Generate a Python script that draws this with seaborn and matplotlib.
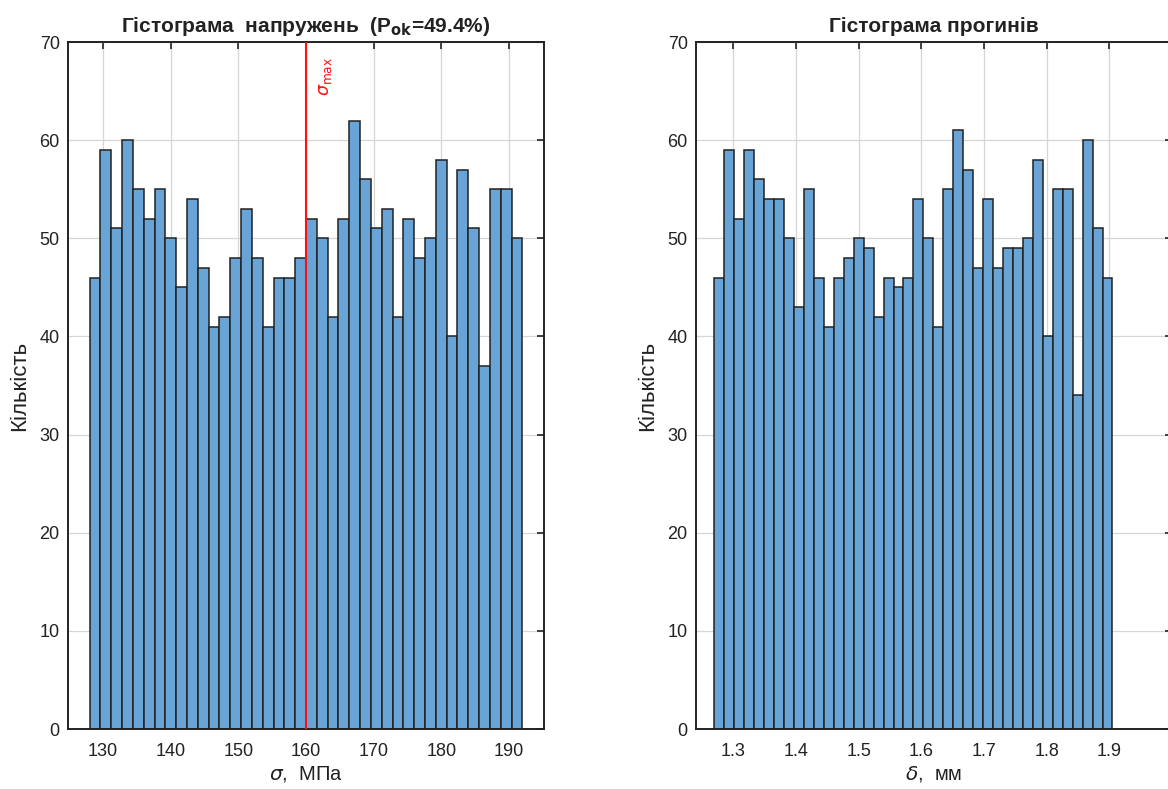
import numpy as np
import pandas as pd
import matplotlib
matplotlib.use("Agg")
import matplotlib.pyplot as plt
import seaborn as sns

# ---------------- дані ----------------
# гістограма напружень: 40 інтервалів від 128 до 192 МПа
stress_range = (128.0, 192.0)
stress_counts = [46, 59, 51, 60, 55, 52, 55, 50, 45, 54,
                 47, 41, 42, 48, 53, 48, 41, 46, 46, 48,
                 52, 50, 42, 52, 62, 56, 51, 53, 42, 52,
                 48, 50, 58, 40, 57, 51, 37, 55, 55, 50]
sigma_max = 160.0

# гістограма прогинів: 40 інтервалів від 1.270 до 1.905 мм
defl_range = (1.270, 1.905)
defl_counts = [46, 59, 52, 59, 56, 54, 54, 50, 43, 55,
               46, 41, 46, 48, 50, 49, 42, 46, 45, 46,
               54, 50, 41, 55, 61, 57, 47, 54, 47, 49,
               49, 50, 58, 40, 55, 55, 34, 60, 51, 46]

stress_ticks = [130, 140, 150, 160, 170, 180, 190]
defl_ticks = [1.3, 1.4, 1.5, 1.6, 1.7, 1.8, 1.9]
y_ticks = [0, 10, 20, 30, 40, 50, 60, 70]

# ---------------- стиль ----------------
sns.set_style("white")
plt.rcParams['font.family'] = ['Liberation Sans', 'DejaVu Sans']
plt.rcParams['mathtext.fontset'] = 'dejavusans'

BAR = '#68a4d6'
EDGE = '#222222'
TXT = '#222222'


def draw_hist(ax, counts, rng, ticks, xlim):
    n = len(counts)
    edges = np.linspace(rng[0], rng[1], n + 1)
    df = pd.DataFrame({'x': (edges[:-1] + edges[1:]) / 2, 'w': counts})
    # bins як int + binrange (масив у bins ламає перевірку seaborn)
    sns.histplot(data=df, x='x', weights='w', bins=n, binrange=rng, color=BAR,
                 edgecolor=EDGE, linewidth=1.1, alpha=1, ax=ax, zorder=2)
    ax.set_xlim(*xlim)
    ax.set_ylim(0, 70)
    ax.set_xticks(ticks)
    ax.set_yticks(y_ticks)
    ax.grid(True, color='#d6d6d6', linewidth=0.9, zorder=0)
    ax.set_axisbelow(True)
    ax.tick_params(direction='in', top=True, right=True, length=5,
                   width=1.2, labelsize=13, colors=TXT, pad=6)
    ax.tick_params(axis='x', pad=10)
    for s in ax.spines.values():
        s.set_linewidth(1.4)
        s.set_color(TXT)
    ax.set_ylabel('Кількість', fontsize=16, color=TXT, labelpad=7)


fig = plt.figure(figsize=(11.68, 7.89), dpi=100)
W, H = 1168, 789
ax1 = fig.add_axes([68 / W, 1 - 729 / H, 476 / W, 687 / H])
ax2 = fig.add_axes([696 / W, 1 - 729 / H, 476 / W, 687 / H])

# ліва: напруження
draw_hist(ax1, stress_counts, stress_range, stress_ticks, (124.8, 195.2))
ax1.axvline(sigma_max, color='#ff1010', linewidth=1.5, zorder=3)
ax1.text(sigma_max + 1.6, 68.5, r'$\sigma_{\max}$', color='#ff1010',
         rotation=90, fontsize=12.5, ha='left', va='top')
ax1.set_xlabel(r'$\sigma$,  МПа', fontsize=14.5, color=TXT, labelpad=3)

edges = np.linspace(stress_range[0], stress_range[1], len(stress_counts) + 1)
p_ok = 100 * sum(c for c, e in zip(stress_counts, edges[1:]) if e <= sigma_max) / sum(stress_counts)
ax1.set_title(f'Гістограма  напружень  (P$_{{\\mathbf{{ok}}}}$={p_ok:.1f}%)',
              fontsize=15, fontweight='bold', color=TXT, pad=7)

# права: прогини
draw_hist(ax2, defl_counts, defl_range, defl_ticks, (1.2406, 2.0))
ax2.set_xlabel(r'$\delta$,  мм', fontsize=14.5, color=TXT, labelpad=3)
ax2.set_title('Гістограма прогинів', fontsize=15, fontweight='bold',
              color=TXT, pad=7)

fig.savefig('out.png', dpi=100)
